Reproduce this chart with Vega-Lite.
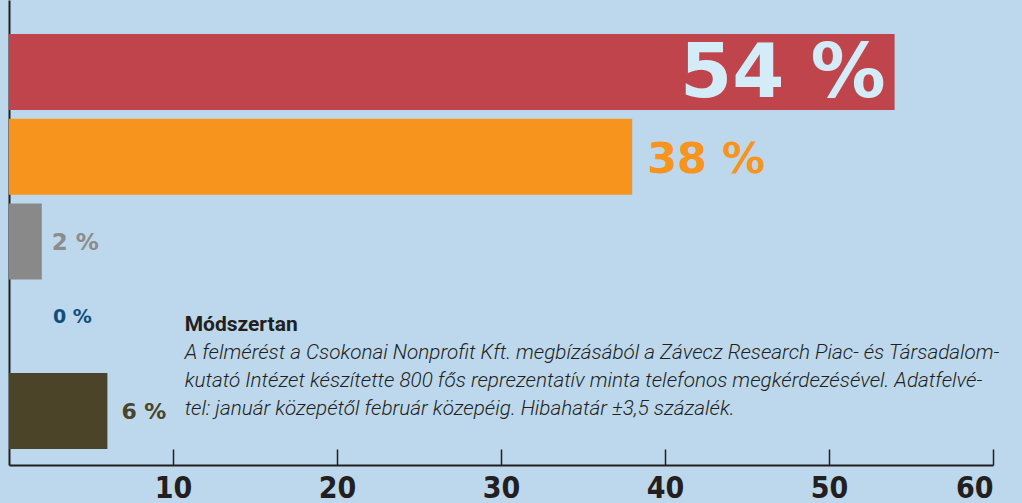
{
  "$schema": "https://vega.github.io/schema/vega-lite/v6.json",
  "width": 984,
  "height": 465,
  "autosize": {"type": "none"},
  "padding": {"left": 9, "top": 0, "right": 29, "bottom": 38},
  "background": "#bdd8ec",
  "config": {"view": {"stroke": null}},
  "datasets": {
    "bars": [
      {"group": "A", "value": 54, "label": "54 %"},
      {"group": "B", "value": 38, "label": "38 %"},
      {"group": "C", "value": 2, "label": "2 %"},
      {"group": "D", "value": 0, "label": "0 %"},
      {"group": "E", "value": 6, "label": "6 %"}
    ],
    "note": [
      {"title": "Módszertan", "note": "A felmérést a Csokonai Nonprofit Kft. megbízásából a Závecz Research Piac- és Társadalom-\nkutató Intézet készítette 800 fős reprezentatív minta telefonos megkérdezésével. Adatfelvé-\ntel: január közepétől február közepéig. Hibahatár ±3,5 százalék."}
    ]
  },
  "layer": [
    {
      "data": {"name": "bars"},
      "mark": {"type": "bar"},
      "encoding": {
        "y": {
          "field": "group",
          "type": "nominal",
          "sort": null,
          "scale": {"domain": ["A", "B", "C", "D", "E"], "paddingInner": 0.103, "paddingOuter": 0.295, "align": 0.68},
          "axis": {"title": null, "labels": false, "ticks": false, "domainColor": "#231f20", "domainWidth": 2}
        },
        "x": {
          "field": "value",
          "type": "quantitative",
          "scale": {"domain": [0, 60], "nice": false},
          "axis": {
            "title": null,
            "grid": false,
            "values": [10, 20, 30, 40, 50, 60],
            "tickSize": -16,
            "tickWidth": 1.5,
            "tickColor": "#231f20",
            "domainColor": "#231f20",
            "domainWidth": 2,
            "labelFont": "DejaVu Sans Condensed",
            "labelFontWeight": "bold",
            "labelFontSize": 30,
            "labelColor": "#231f20",
            "labelPadding": 24,
            "labelBaseline": "top"
          }
        },
        "color": {
          "field": "group",
          "type": "nominal",
          "scale": {"domain": ["A", "B", "C", "D", "E"], "range": ["#c0444b", "#f7941d", "#898989", "#bdd8ec", "#4b4429"]},
          "legend": null
        }
      }
    },
    {
      "data": {"name": "bars"},
      "transform": [{"filter": "datum.group == 'A'"}],
      "mark": {"type": "text", "align": "right", "baseline": "middle", "dx": -9, "dy": 2, "font": "DejaVu Sans", "fontWeight": "bold", "fontSize": 75, "color": "#d4ecf8"},
      "encoding": {"x": {"field": "value", "type": "quantitative"}, "y": {"field": "group", "type": "nominal"}, "text": {"field": "label"}}
    },
    {
      "data": {"name": "bars"},
      "transform": [{"filter": "datum.group == 'B'"}],
      "mark": {"type": "text", "align": "left", "baseline": "middle", "dx": 15, "dy": 3, "font": "DejaVu Sans", "fontWeight": "bold", "fontSize": 43, "color": "#f7941d"},
      "encoding": {"x": {"field": "value", "type": "quantitative"}, "y": {"field": "group", "type": "nominal"}, "text": {"field": "label"}}
    },
    {
      "data": {"name": "bars"},
      "transform": [{"filter": "datum.group == 'C'"}],
      "mark": {"type": "text", "align": "left", "baseline": "middle", "dx": 10, "dy": 1, "font": "DejaVu Sans", "fontWeight": "bold", "fontSize": 23, "color": "#8c8c8c"},
      "encoding": {"x": {"field": "value", "type": "quantitative"}, "y": {"field": "group", "type": "nominal"}, "text": {"field": "label"}}
    },
    {
      "data": {"name": "bars"},
      "transform": [{"filter": "datum.group == 'D'"}],
      "mark": {"type": "text", "align": "left", "baseline": "middle", "dx": 44, "dy": -9, "font": "DejaVu Sans", "fontWeight": "bold", "fontSize": 19, "color": "#0e4f7c"},
      "encoding": {"x": {"field": "value", "type": "quantitative"}, "y": {"field": "group", "type": "nominal"}, "text": {"field": "label"}}
    },
    {
      "data": {"name": "bars"},
      "transform": [{"filter": "datum.group == 'E'"}],
      "mark": {"type": "text", "align": "left", "baseline": "middle", "dx": 14, "dy": 1, "font": "DejaVu Sans", "fontWeight": "bold", "fontSize": 22, "color": "#4b4429"},
      "encoding": {"x": {"field": "value", "type": "quantitative"}, "y": {"field": "group", "type": "nominal"}, "text": {"field": "label"}}
    },
    {
      "data": {"name": "note"},
      "mark": {"type": "text", "align": "left", "baseline": "middle", "dy": -1, "font": "Roboto", "fontWeight": "bold", "fontSize": 21, "color": "#231f20"},
      "encoding": {"x": {"datum": 10.71, "type": "quantitative"}, "y": {"datum": "D", "type": "nominal"}, "text": {"field": "title"}}
    },
    {
      "data": {"name": "note"},
      "mark": {"type": "text", "align": "left", "baseline": "top", "dy": 17, "lineBreak": "\n", "lineHeight": 28, "font": "Roboto", "fontWeight": 300, "fontStyle": "italic", "fontSize": 20.7, "color": "#231f20"},
      "encoding": {"x": {"datum": 10.71, "type": "quantitative"}, "y": {"datum": "D", "type": "nominal"}, "text": {"field": "note"}}
    }
  ]
}
